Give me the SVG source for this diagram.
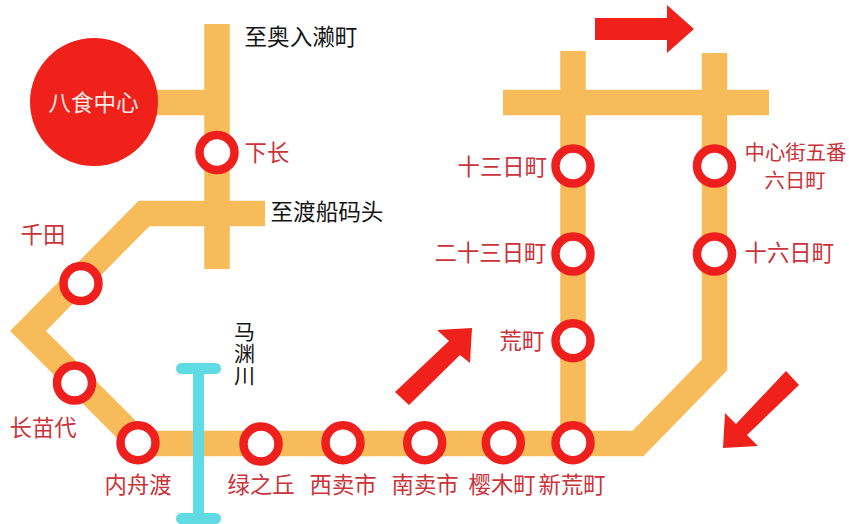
<svg xmlns="http://www.w3.org/2000/svg" width="849" height="524" viewBox="0 0 849 524">
<defs><style>
.l{fill:none;stroke:#f8bb5a;stroke-width:25.5;stroke-linejoin:miter}
.s circle{fill:#fff;stroke:#ee1f1c;stroke-width:8.5}
.r{font-family:"Noto Sans CJK SC","Noto Sans",sans-serif;font-size:22.4px;fill:#c9333a}
.m{font-size:20.4px}
.k{font-family:"Noto Sans CJK SC","Noto Sans",sans-serif;font-size:22.6px;fill:#151515}
.a{fill:#f0201b}
</style></defs>
<rect width="849" height="524" fill="#fff"/>
<g id="connectors">
<path class="l" d="M217 24V269M150 102.5H217"/>
<path class="l" d="M265 213.500H144L28 331L140.500 443.500H638L714.500 365V53"/>
<path class="l" d="M573 51V443M503 102.500H769"/>
<path d="M198.500 368.500V518.500M181.500 368.500H215.500M181.500 518.500H215.500" fill="none" stroke="#60dbe3" stroke-width="11" stroke-linecap="round"/>
</g>
<g id="hub"><circle cx="94" cy="102" r="64" fill="#f0201b"/><text x="93.500" y="110.500" text-anchor="middle" font-family="'Noto Sans CJK SC',sans-serif" font-size="22.6" fill="#fbe9e4">八食中心</text></g>
<g id="st-xiachang" class="s"><circle cx="217" cy="152.500" r="17.500"/><text class="r" x="244.500" y="160.500">下长</text></g>
<g id="st-qiantian" class="s"><circle cx="81" cy="283.500" r="17.500"/><text class="r" x="20.500" y="242.500">千田</text></g>
<g id="st-changmiaodai" class="s"><circle cx="74.500" cy="383" r="17.500"/><text class="r" x="9.500" y="435.500">长苗代</text></g>
<g id="st-neizhoudu" class="s"><circle cx="138" cy="442.700" r="17.500"/><text class="r" x="104.500" y="492.500">内舟渡</text></g>
<g id="st-lvzhiqiu" class="s"><circle cx="261" cy="444" r="17.500"/><text class="r" x="227.500" y="492.500">绿之丘</text></g>
<g id="st-ximaishi" class="s"><circle cx="343" cy="442.700" r="17.500"/><text class="r" x="309.500" y="492.500">西卖市</text></g>
<g id="st-nanmaishi" class="s"><circle cx="424.700" cy="442.700" r="17.500"/><text class="r" x="391.500" y="492.500">南卖市</text></g>
<g id="st-yingmuting" class="s"><circle cx="503.300" cy="442.700" r="17.500"/><text class="r" x="468.500" y="492.500">樱木町</text></g>
<g id="st-xinhuangting" class="s"><circle cx="573" cy="442.700" r="17.500"/><text class="r" x="538.500" y="492.500">新荒町</text></g>
<g id="st-huangting" class="s"><circle cx="573" cy="340.700" r="17.500"/><text class="r" x="499.500" y="349">荒町</text></g>
<g id="st-ershisan" class="s"><circle cx="573" cy="254" r="17.500"/><text class="r" x="434.500" y="261">二十三日町</text></g>
<g id="st-shisan" class="s"><circle cx="573" cy="166" r="17.500"/><text class="r" x="457.500" y="175">十三日町</text></g>
<g id="st-liuri" class="s"><circle cx="714.500" cy="166" r="17.500"/><text class="r m" x="744.500" y="160">中心街五番</text><text class="r m" x="764.500" y="188">六日町</text></g>
<g id="st-shiliu" class="s"><circle cx="714.500" cy="254" r="17.500"/><text class="r" x="744.500" y="261">十六日町</text></g>
<g id="labels">
<text class="k" x="244.500" y="45">至奥入濑町</text>
<text class="k" x="270.500" y="220">至渡船码头</text>
<text class="k" x="244.500" y="321" style="writing-mode:vertical-rl;font-size:21px;letter-spacing:1px">马渊川</text>
</g>
<g id="arrows">
<polygon class="a" points="595,18 667,18 667,5 694,29 667,53 667,40 595,40"/>
<polygon class="a" points="395,392 449,341 437,330 472,328 470,363 460,355 409,405"/>
<polygon class="a" points="786,371 799,385 747,435 758,446 723,448 725,413 736,424"/>
</g>
</svg>
